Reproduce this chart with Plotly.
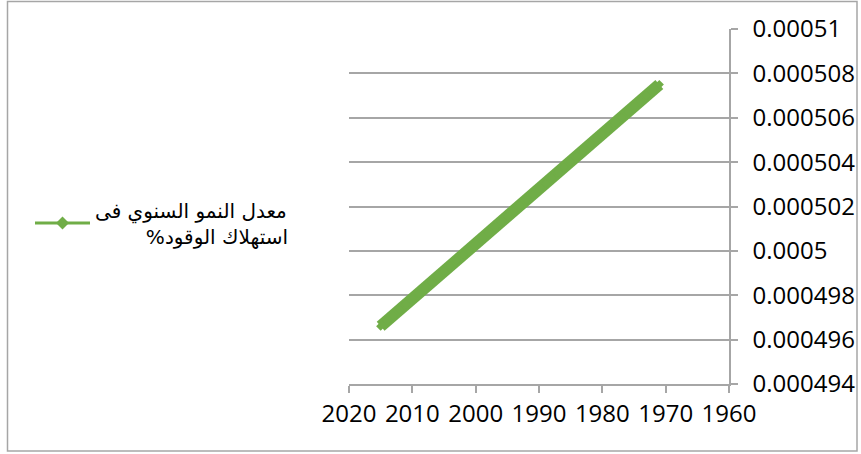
import plotly.graph_objects as go

years = list(range(1971, 2016))
growth = [
    0.00050750, 0.00050725, 0.00050700, 0.00050676, 0.00050651, 0.00050626,
    0.00050601, 0.00050577, 0.00050552, 0.00050527, 0.00050502, 0.00050477,
    0.00050453, 0.00050428, 0.00050403, 0.00050378, 0.00050354, 0.00050329,
    0.00050304, 0.00050279, 0.00050255, 0.00050230, 0.00050205, 0.00050180,
    0.00050155, 0.00050131, 0.00050106, 0.00050081, 0.00050056, 0.00050032,
    0.00050007, 0.00049982, 0.00049957, 0.00049932, 0.00049908, 0.00049883,
    0.00049858, 0.00049833, 0.00049809, 0.00049784, 0.00049759, 0.00049734,
    0.00049710, 0.00049685, 0.00049660,
]
series_name = "معدل النمو السنوي فى<br>\u00a0\u00a0\u00a0\u00a0\u00a0\u00a0\u00a0\u00a0%استهلاك الوقود"
x_ticks = [2020, 2010, 2000, 1990, 1980, 1970, 1960]
y_ticks = [0.000494, 0.000496, 0.000498, 0.0005, 0.000502, 0.000504, 0.000506, 0.000508, 0.00051]
y_labels = ["0.000494", "0.000496", "0.000498", "0.0005", "0.000502", "0.000504", "0.000506", "0.000508", "0.00051"]

GREEN = "#70AD47"
GRID = "#A6A6A6"
FONT = "Open Sans, DejaVu Sans, sans-serif"

fig = go.Figure()
fig.add_trace(go.Scatter(
    x=years, y=growth, name=series_name, mode="lines+markers",
    line=dict(color=GREEN, width=12),
    marker=dict(symbol="diamond", size=7, color=GREEN, line=dict(width=0)),
    showlegend=False,
))
fig.add_trace(go.Scatter(
    x=[None], y=[None], name=series_name, mode="lines+markers",
    line=dict(color=GREEN, width=3),
    marker=dict(symbol="diamond", size=10, color=GREEN, line=dict(width=0)),
    showlegend=True,
))

L, R, T, B = 349, 132, 29, 70
W, H = 861, 454
pw, ph = W - L - R, H - T - B

def px(x):
    return (x - L) / pw

def py(y):
    return (H - B - y) / ph

fig.update_layout(
    width=W, height=H,
    margin=dict(l=L, r=R, t=T, b=B, autoexpand=False),
    paper_bgcolor="white", plot_bgcolor="white",
    font=dict(family=FONT, color="#000000"),
    showlegend=True,
    legend=dict(
        x=px(30), y=py(223), xanchor="left", yanchor="middle",
        font=dict(family="DejaVu Sans, sans-serif", size=20, color="#000000"),
        bgcolor="rgba(0,0,0,0)", itemwidth=55,
    ),
    xaxis=dict(
        range=[2020, 1960], tickmode="array", tickvals=x_ticks,
        ticktext=[str(v) for v in x_ticks],
        showgrid=False, zeroline=False, automargin=False,
        showline=True, linecolor=GRID, linewidth=1.5,
        ticks="outside", ticklen=7, tickcolor=GRID, tickwidth=1.5,
        tickfont=dict(family=FONT, size=24, color="#000000"),
    ),
    yaxis=dict(
        range=[0.000494, 0.0005100002], side="right", tickmode="array",
        tickvals=y_ticks, ticktext=y_labels, automargin=False,
        showgrid=True, gridcolor=GRID, gridwidth=1.5, zeroline=False,
        showline=True, linecolor=GRID, linewidth=1.5,
        ticks="outside", ticklen=7, tickcolor=GRID, tickwidth=1.5,
        ticklabelstandoff=10,
        tickfont=dict(family=FONT, size=24, color="#000000"),
    ),
    shapes=[dict(
        type="rect", xref="paper", yref="paper",
        x0=px(7.5), x1=px(857), y0=py(451), y1=py(1.5),
        line=dict(color=GRID, width=1.5), fillcolor="rgba(0,0,0,0)",
        layer="below",
    )],
)

fig.write_html("out.html")
